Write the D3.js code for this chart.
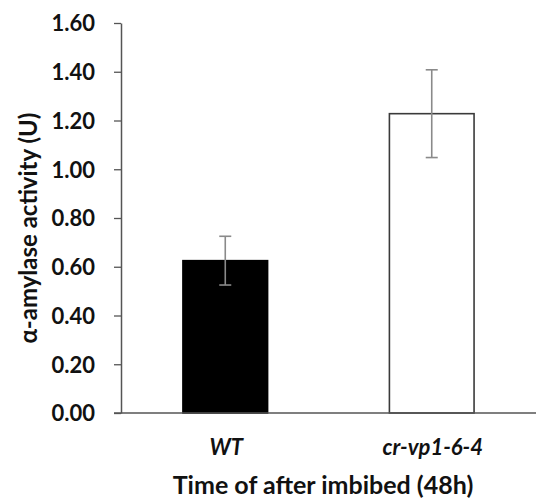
<!DOCTYPE html>
<html>
<head>
<meta charset="utf-8">
<script src="https://cdn.jsdelivr.net/npm/d3@7"></script>
<style>
  body { margin: 0; background: #fff; }
  svg { display: block; }
</style>
</head>
<body>
<div id="chart"></div>
<script>
// data
var categories = ["WT", "cr-vp1-6-4"];
var activity = [0.625, 1.228];
var errors = [0.10, 0.18];
var yTicks = [0, 0.2, 0.4, 0.6, 0.8, 1.0, 1.2, 1.4, 1.6];

var W = 538, H = 501;
var margin = {top: 23, right: 2, bottom: 88, left: 121};
var width = W - margin.left - margin.right,
    height = H - margin.top - margin.bottom;

var font = "Lato, 'Open Sans', sans-serif";

var svg = d3.select("#chart")
  .append("svg")
    .attr("width", W)
    .attr("height", H)
  .append("g")
    .attr("transform", "translate(" + margin.left + "," + margin.top + ")");

var x = d3.scaleBand()
    .domain(categories)
    .range([0, width])
    .paddingInner(0.59)
    .paddingOuter(0.3);

var y = d3.scaleLinear()
    .domain([0, 1.6])
    .range([height, 0]);

// bars
svg.selectAll("rect.bar")
    .data(categories)
    .enter()
    .append("rect")
    .attr("class", "bar")
    .attr("x", d => x(d))
    .attr("y", (d, i) => y(activity[i]))
    .attr("width", x.bandwidth())
    .attr("height", (d, i) => height - y(activity[i]))
    .style("fill", (d, i) => i == 0 ? "#000" : "#fff")
    .attr("stroke", (d, i) => i == 0 ? "#000" : "#3a3a3a")
    .style("stroke-width", 1.6);

// error bars
var eb = svg.selectAll("g.err")
    .data(categories)
    .enter()
    .append("g")
    .attr("class", "err")
    .attr("stroke", "#8a8a8a")
    .style("stroke-width", 1.6);

eb.append("line")
    .attr("x1", d => x(d) + x.bandwidth() / 2)
    .attr("x2", d => x(d) + x.bandwidth() / 2)
    .attr("y1", (d, i) => y(activity[i] + errors[i]))
    .attr("y2", (d, i) => y(activity[i] - errors[i]));

[1, -1].forEach(function(s) {
  eb.append("line")
      .attr("x1", d => x(d) + x.bandwidth() / 2 - 6)
      .attr("x2", d => x(d) + x.bandwidth() / 2 + 6)
      .attr("y1", (d, i) => y(activity[i] + s * errors[i]))
      .attr("y2", (d, i) => y(activity[i] + s * errors[i]));
});

// y axis
var yAxis = svg.append("g")
    .call(d3.axisLeft(y).tickValues(yTicks).tickFormat(d3.format(".2f")).tickSize(7).tickSizeOuter(0))
    .style("font-family", font)
    .style("font-size", "22px")
    .style("font-weight", "bold");
yAxis.select(".domain").attr("stroke", "#555").style("stroke-width", 1.5);
yAxis.selectAll(".tick line").attr("stroke", "#555").style("stroke-width", 1.3);
yAxis.selectAll(".tick text").attr("fill", "#111").attr("x", -26).attr("dy", "0.36em");

// x axis line
svg.append("line")
    .attr("x1", -7)
    .attr("x2", width)
    .attr("y1", height)
    .attr("y2", height)
    .attr("stroke", "#555")
    .style("stroke-width", 1.5);

// category labels
svg.selectAll("text.cat")
    .data(categories)
    .enter()
    .append("text")
    .attr("class", "cat")
    .attr("x", d => x(d) + x.bandwidth() / 2 + 1)
    .attr("y", height + 42)
    .attr("text-anchor", "middle")
    .style("font-family", font)
    .style("font-size", "22px")
    .style("font-weight", "bold")
    .style("font-style", "italic")
    .attr("fill", "#111")
    .text(d => d);

// axis titles
svg.append("text")
    .attr("x", 202)
    .attr("y", height + 81)
    .attr("text-anchor", "middle")
    .style("font-family", font)
    .style("font-size", "25px")
    .style("font-weight", "bold")
    .attr("fill", "#111")
    .text("Time of after imbibed (48h)");

svg.append("text")
    .attr("transform", "translate(" + (-84) + "," + (height / 2 + 10) + ") rotate(-90)")
    .attr("text-anchor", "middle")
    .style("font-family", font)
    .style("font-size", "24px")
    .style("font-weight", "bold")
    .attr("fill", "#111")
    .text("α-amylase activity (U)");
</script>
</body>
</html>
